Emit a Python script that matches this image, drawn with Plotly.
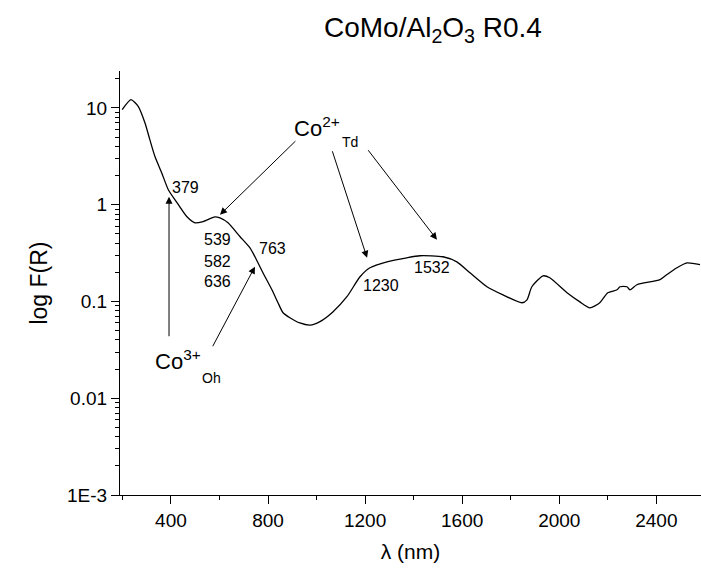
import numpy as np
import plotly.graph_objects as go

# ---- data ----
wavelength_nm = [199, 235, 265, 293, 313, 334, 362, 389, 425, 466, 499, 532, 581, 602, 635,
                 684, 725, 746, 779, 816, 841, 861, 890, 931, 973, 1014, 1067, 1125, 1179,
                 1220, 1290, 1372, 1426, 1521, 1578, 1632, 1702, 1768, 1846, 1867, 1887, 1933,
                 1961, 2032, 2085, 2126, 2167, 2200, 2238, 2250, 2279, 2291, 2320, 2415, 2444,
                 2485, 2526, 2580]
log_FR = [9.6, 12.2, 10.4, 7.0, 4.7, 3.15, 2.13, 1.43, 1.05, 0.75, 0.65, 0.67, 0.75, 0.73, 0.65,
          0.47, 0.36, 0.29, 0.198, 0.132, 0.097, 0.077, 0.068, 0.060, 0.057, 0.062, 0.078, 0.112, 0.18,
          0.223, 0.257, 0.283, 0.297, 0.29, 0.257, 0.198, 0.142, 0.117, 0.097, 0.104, 0.142, 0.184,
          0.176, 0.123, 0.099, 0.086, 0.097, 0.123, 0.132, 0.142, 0.142, 0.132, 0.149, 0.168, 0.19,
          0.223, 0.25, 0.24]

x_tickvals = [400, 800, 1200, 1600, 2000, 2400]
y_tickvals = [0.001, 0.01, 0.1, 1, 10]
y_ticktext = ["1E-3", "0.01", "0.1", "1", "10"]
y_decades = [0.001, 0.01, 0.1, 1, 10]
y_minor_digits = [2, 3, 4, 5, 6, 7, 8, 9]

# peak labels: (text, nm, value, xanchor)
peak_labels = [
    ("379", 396, 1.50, "left"),
    ("539", 592, 0.435, "center"),
    ("582", 592, 0.258, "center"),
    ("636", 592, 0.160, "center"),
    ("763", 820, 0.351, "center"),
    ("1230", 1267, 0.146, "center"),
    ("1532", 1477, 0.223, "center"),
]
# species labels: (text, nm, value, size)
species_labels = [
    ("Co<sup>2+</sup>", 1002, 6.4, 22),
    ("Td", 1137, 4.48, 14),
    ("Co<sup>3+</sup>", 429, 0.025, 22),
    ("Oh", 567, 0.0163, 14),
]
# arrows: (tail_nm, tail_val, head_nm, head_val)
arrows = [
    (392, 0.0422, 392, 1.21),
    (919, 4.70, 602, 0.788),
    (1063, 3.70, 1208, 0.283),
    (1208, 3.79, 1496, 0.435),
    (569, 0.0333, 746, 0.229),
]

FONT = "Liberation Sans, Arial, sans-serif"
Y_RANGE = [-3, 1.382]

y_minor_vals = [d * m for d in y_decades for m in y_minor_digits if d * m < 24]

fig = go.Figure()
fig.add_trace(go.Scatter(x=wavelength_nm, y=log_FR, mode="lines",
                         line=dict(color="black", width=1.3, shape="spline", smoothing=0.6),
                         showlegend=False, hoverinfo="skip"))
# helper trace so that the minor-tick overlay axis is drawn
fig.add_trace(go.Scatter(x=[wavelength_nm[0]], y=[log_FR[0]], yaxis="y2", mode="lines",
                         line=dict(width=0), showlegend=False, hoverinfo="skip"))

annotations = []
for txt, xv, yv, anc in peak_labels:
    annotations.append(dict(x=xv, y=np.log10(yv), xref="x", yref="y", text=txt,
                            showarrow=False, xanchor=anc, yanchor="middle",
                            font=dict(size=16, color="black", family=FONT)))
for txt, xv, yv, sz in species_labels:
    annotations.append(dict(x=xv, y=np.log10(yv), xref="x", yref="y", text=txt,
                            showarrow=False, xanchor="center", yanchor="middle",
                            font=dict(size=sz, color="black", family=FONT)))
for tx, ty, hx, hy in arrows:
    annotations.append(dict(x=hx, y=np.log10(hy), ax=tx, ay=np.log10(ty),
                            xref="x", yref="y", axref="x", ayref="y", text="",
                            showarrow=True, arrowhead=2, arrowsize=1.4, arrowwidth=1,
                            arrowcolor="black", standoff=0, startstandoff=0))
# title
annotations.append(dict(x=0.539, y=1.097, xref="paper", yref="paper",
                        text="CoMo/Al<sub>2</sub>O<sub>3</sub> R0.4", showarrow=False,
                        xanchor="center", yanchor="middle",
                        font=dict(size=28, color="black", family=FONT)))

fig.update_layout(
    width=701, height=570,
    margin=dict(l=120, r=0, t=71, b=75),
    paper_bgcolor="white", plot_bgcolor="white",
    font=dict(family=FONT, color="black"),
    annotations=annotations,
    xaxis=dict(range=[190, 2584], tickvals=x_tickvals, ticks="outside", ticklen=8,
               tickwidth=1.2, tickcolor="black", showline=True, linecolor="black",
               linewidth=1.3, showgrid=False, zeroline=False,
               tickfont=dict(size=19, family=FONT),
               minor=dict(dtick=200, tick0=0, ticks="outside", ticklen=4,
                          tickwidth=1.2, tickcolor="black", showgrid=False),
               title=dict(text="λ (nm)", font=dict(size=21, family=FONT), standoff=14)),
    yaxis=dict(type="log", range=Y_RANGE, tickvals=y_tickvals, ticktext=y_ticktext,
               ticks="outside", ticklen=8, tickwidth=1.2, tickcolor="black",
               showline=True, linecolor="black", linewidth=1.3, showgrid=False,
               zeroline=False, tickfont=dict(size=19, family=FONT),
               title=dict(text="log F(R)", font=dict(size=23, family=FONT), standoff=12)),
    yaxis2=dict(type="log", range=Y_RANGE, overlaying="y", side="left",
                tickmode="array", tickvals=y_minor_vals, ticks="outside", ticklen=4,
                tickwidth=1.2, tickcolor="black", showticklabels=False,
                showline=False, showgrid=False, zeroline=False),
)

fig.write_html("out.html")
